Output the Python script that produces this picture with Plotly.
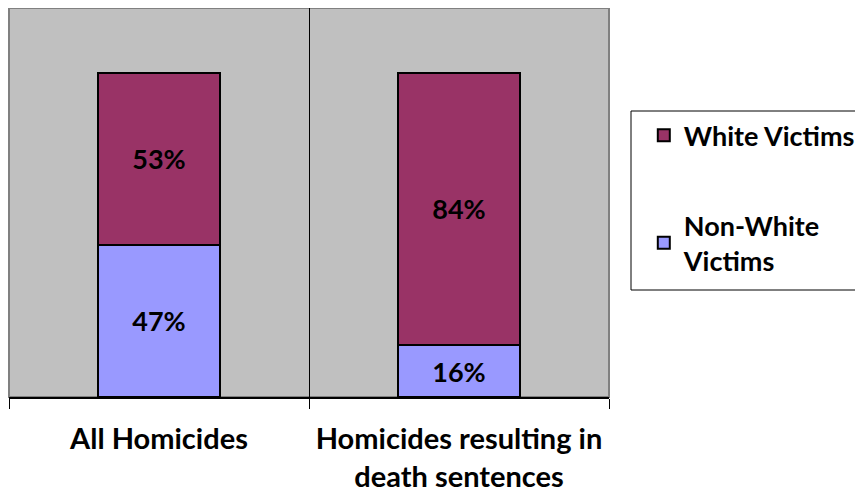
import plotly.graph_objects as go

categories = ["All Homicides", "Homicides resulting in<br>death sentences"]
non_white = [47, 16]
white = [53, 84]
series_names = ["Non-White<br>Victims", "White Victims"]

FONT = "Lato"
# page has an 8px body margin; plot area should span x 9..609, y 8..397 on the page
fig = go.Figure()
fig.add_trace(go.Bar(
    x=categories, y=non_white, name=series_names[0],
    marker=dict(color="#9999FF", line=dict(color="black", width=2)),
    text=[f"{v}%" for v in non_white], textposition="inside",
    insidetextanchor="middle", textangle=0,
    textfont=dict(family=FONT, size=27, color="black", weight="bold"),
    legendgroup="a", legendrank=2, width=0.405,
))
fig.add_trace(go.Bar(
    x=categories, y=white, name=series_names[1],
    marker=dict(color="#993366", line=dict(color="black", width=2)),
    text=[f"{v}%" for v in white], textposition="inside",
    insidetextanchor="middle", textangle=0,
    textfont=dict(family=FONT, size=27, color="black", weight="bold"),
    legendgroup="b", legendrank=1, width=0.405,
))

fig.update_layout(
    width=863, height=492,
    barmode="stack",
    paper_bgcolor="white", plot_bgcolor="#C0C0C0",
    margin=dict(l=1, r=262, t=0, b=103),
    showlegend=True,
    legend=dict(
        x=1.058, y=0.735, xanchor="left", yanchor="top",
        traceorder="grouped", tracegroupgap=52,
        font=dict(family=FONT, size=27, color="black", weight="bold"),
        bgcolor="rgba(0,0,0,0)", borderwidth=0,
        itemwidth=30,
    ),
    xaxis=dict(
        tickson="boundaries", ticks="outside", ticklen=10, tickcolor="black",
        showgrid=True, gridcolor="black", gridwidth=1,
        showline=True, linecolor="black", linewidth=2,
        tickfont=dict(family=FONT, size=29, color="black", weight="bold"),
        ticklabelstandoff=15,
        range=[-0.5, 1.5],
    ),
    yaxis=dict(
        range=[0, 120], showgrid=False, showticklabels=False, ticks="",
        zeroline=False, showline=False,
    ),
    shapes=[
        dict(type="rect", xref="paper", yref="paper", x0=0, x1=1, y0=0, y1=1,
             line=dict(color="#808080", width=2), fillcolor="rgba(0,0,0,0)", layer="below"),
        dict(type="rect", xref="paper", yref="paper",
             x0=(631 - 9) / 600, x1=2.0,
             y0=(397 - 290) / 389, y1=(397 - 111) / 389,
             line=dict(color="black", width=1), fillcolor="rgba(0,0,0,0)"),
    ],
)

fig.write_html("out.html", config={"displayModeBar": False})
